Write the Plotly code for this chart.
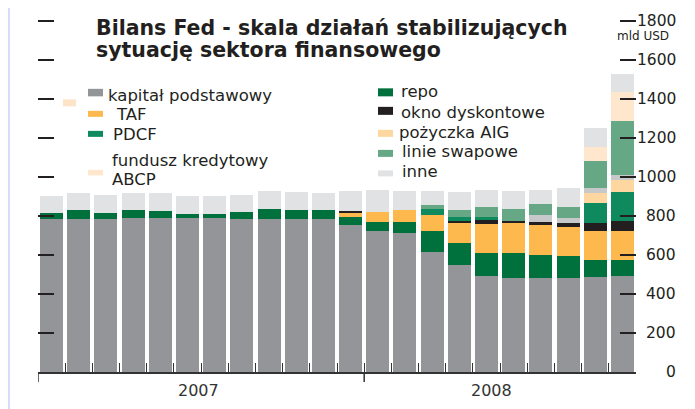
import plotly.graph_objects as go

# ---------------- data (mld USD) ----------------
months = ["sty 2007", "lut 2007", "mar 2007", "kwi 2007", "maj 2007", "cze 2007",
          "lip 2007", "sie 2007", "wrz 2007", "paź 2007", "lis 2007", "gru 2007",
          "sty 2008", "lut 2008", "mar 2008", "kwi 2008", "maj 2008", "cze 2008",
          "lip 2008", "sie 2008", "wrz 2008", "paź 2008"]
years = ["2007", "2008"]

kapital = [783, 783, 783, 790, 790, 790, 788, 783, 783, 783, 783, 755,
           723, 714, 615, 549, 494, 480, 480, 480, 489, 494]
repo = [31, 48, 32, 41, 34, 19, 21, 39, 51, 46, 46, 41,
        46, 55, 108, 114, 115, 129, 122, 115, 85, 80]
taf = [0, 0, 0, 0, 0, 0, 0, 0, 0, 0, 0, 21,
       53, 62, 80, 99, 148, 153, 153, 147, 149, 149]
okno = [0, 0, 0, 0, 0, 0, 0, 0, 0, 0, 0, 7,
        0, 0, 0, 14, 22, 14, 14, 20, 39, 51]
pdcf = [0, 0, 0, 0, 0, 0, 0, 0, 0, 0, 0, 0,
        0, 0, 33, 20, 17, 0, 0, 0, 106, 150]
aig = [0, 0, 0, 0, 0, 0, 0, 0, 0, 0, 0, 0,
       0, 0, 0, 0, 0, 0, 0, 0, 48, 58]
pozostale = [0, 0, 0, 0, 0, 0, 0, 0, 0, 0, 0, 0,
             0, 0, 0, 0, 0, 0, 35, 26, 26, 26]
swap = [0, 0, 0, 0, 0, 0, 0, 0, 0, 0, 0, 0,
        0, 0, 20, 35, 52, 58, 58, 60, 140, 277]
abcp = [0, 0, 0, 0, 0, 0, 0, 0, 0, 0, 0, 0,
        0, 0, 0, 0, 0, 0, 0, 0, 73, 150]
inne = [89, 85, 93, 85, 92, 94, 94, 87, 94, 92, 87, 104,
        111, 97, 72, 90, 85, 94, 71, 94, 95, 94]

y_ticks = [0, 200, 400, 600, 800, 1000, 1200, 1400, 1600, 1800]

# stacking order bottom -> top
series = [
    ("kapitał podstawowy", kapital, "#939598"),
    ("repo", repo, "#00703c"),
    ("TAF", taf, "#fdb94e"),
    ("okno dyskontowe", okno, "#231f20"),
    ("PDCF", pdcf, "#0f8a5f"),
    ("pożyczka AIG", aig, "#fdd6a0"),
    ("pozostałe", pozostale, "#c7c8ca"),
    ("linie swapowe", swap, "#66a886"),
    ("fundusz kredytowy ABCP", abcp, "#fee7cc"),
    ("inne", inne, "#e1e2e4"),
]
colors = {name: c for name, _, c in series}

# ---------------- geometry (page pixels; the page body adds an 8px offset) ----------------
OFF = 8                      # browser default body margin
VW, VH = 695, 409            # visible window
W, H = VW - OFF, VH - OFF    # figure size
Y_MAX = 1840
SCALE = 0.195                # pixels per mld USD in the reference
L, R, B = 38, 636, 372       # plot area edges in window pixels
T = B - Y_MAX * SCALE
PW, PH = R - L, B - T


def px(x):
    return (x - L) / PW


def py(y):
    return (B - y) / PH


FONT = "DejaVu Sans"
TXT = "#231f20"

fig = go.Figure()
for name, vals, col in series:
    fig.add_trace(go.Bar(x=months, y=vals, name=name, marker=dict(color=col, line=dict(width=0)),
                         showlegend=False))

shapes = []
annotations = []

# white panel over light-blue frame
shapes.append(dict(type="rect", xref="paper", yref="paper", x0=px(10), x1=px(VW + 5),
                   y0=py(VH + 5), y1=py(5), fillcolor="white", line=dict(width=0), layer="below"))
# small stray swatch seen in the original
shapes.append(dict(type="rect", xref="paper", yref="paper", x0=px(63), x1=px(76),
                   y0=py(106.5), y1=py(99.5), fillcolor="#fde4c8", line=dict(width=0)))

# long ticks below axis (axis start and year boundary)
first_2008 = months.index("sty 2008")
for xv in [-0.5, first_2008 - 0.5]:
    shapes.append(dict(type="line", xref="x", yref="paper", x0=xv, x1=xv, y0=0, y1=py(382),
                       line=dict(color="#333333", width=1.5)))

# year labels
for yr, xpos in zip(years, [5.4, 16.2]):
    annotations.append(dict(text=yr, xref="x", yref="paper", x=xpos, y=py(390.5),
                            xanchor="center", yanchor="middle", showarrow=False,
                            font=dict(family=FONT, size=16, color="#333333")))

# right-aligned value labels
for v in y_ticks:
    annotations.append(dict(text=str(v), xref="paper", yref="y", x=px(677), y=v,
                            xanchor="right", yanchor="middle", showarrow=False, borderpad=0,
                            font=dict(family=FONT, size=15.5, color="#231f20")))
annotations.append(dict(text="mld USD", xref="paper", yref="paper", x=px(643), y=py(36.5),
                        xanchor="center", yanchor="middle", showarrow=False, borderpad=0,
                        font=dict(family=FONT, size=12, color="#231f20")))

# title
annotations.append(dict(text="<b>Bilans Fed - skala działań stabilizujących</b>", xref="paper",
                        yref="paper", x=px(94.5), y=py(28.6), xanchor="left", yanchor="middle",
                        showarrow=False, borderpad=0, font=dict(family=FONT, size=20.5, color=TXT)))
annotations.append(dict(text="<b>sytuację sektora finansowego</b>", xref="paper",
                        yref="paper", x=px(94.5), y=py(50.5), xanchor="left", yanchor="middle",
                        showarrow=False, borderpad=0, font=dict(family=FONT, size=20.5, color=TXT)))

# manual legend: (series name, label text, text x, text center y, swatch x, swatch y0, swatch y1)
legend_items = [
    ("kapitał podstawowy", "kapitał podstawowy", 107, 96, 88, 89, 96.5),
    ("TAF", "TAF", 115, 115, 88, 111, 117),
    ("PDCF", "PDCF", 112, 134.5, 88, 131, 137),
    ("fundusz kredytowy ABCP", "ABCP", 111, 179.5, 88, 170, 175.5),
    ("repo", "repo", 400, 92, 378, 88.5, 96.5),
    ("okno dyskontowe", "okno dyskontowe", 400, 112.5, 378, 107, 115),
    ("pożyczka AIG", "pożyczka AIG", 398, 132.5, 378, 130, 137),
    ("linie swapowe", "linie swapowe", 401, 152, 378, 150, 157),
    ("inne", "inne", 401, 171.5, 378, 170.5, 176.5),
]
for name, label, tx, ty, sx, sy0, sy1 in legend_items:
    shapes.append(dict(type="rect", xref="paper", yref="paper", x0=px(sx), x1=px(sx + 15),
                       y0=py(sy1), y1=py(sy0), fillcolor=colors[name], line=dict(width=0)))
    annotations.append(dict(text=label, xref="paper", yref="paper", x=px(tx), y=py(ty),
                            xanchor="left", yanchor="middle", showarrow=False, borderpad=0,
                            font=dict(family=FONT, size=16.5, color=TXT)))
annotations.append(dict(text="fundusz kredytowy", xref="paper", yref="paper", x=px(111), y=py(161),
                        xanchor="left", yanchor="middle", showarrow=False, borderpad=0,
                        font=dict(family=FONT, size=16.5, color=TXT)))

fig.update_layout(
    width=W, height=H,
    margin=dict(l=L - OFF, r=VW - R, t=T - OFF, b=VH - B, pad=0),
    paper_bgcolor="#d4def8",
    plot_bgcolor="rgba(0,0,0,0)",
    barmode="stack",
    bargap=0.154,
    showlegend=False,
    shapes=shapes,
    annotations=annotations,
    xaxis=dict(type="category", range=[-0.5, len(months) - 0.5], showticklabels=False,
               ticks="inside", tickson="boundaries", ticklen=9, tickwidth=1.3, tickcolor="#333333",
               showline=True, linecolor="#333333", linewidth=1.5, showgrid=False, zeroline=False,
               fixedrange=True),
    yaxis=dict(range=[0, Y_MAX], side="right", tickmode="array", tickvals=y_ticks,
               showticklabels=False, ticks="inside", ticklen=16, tickwidth=1.6, tickcolor="#231f20",
               mirror="ticks", showline=False, showgrid=False, zeroline=False, fixedrange=True),
)

fig.write_html("out.html")
